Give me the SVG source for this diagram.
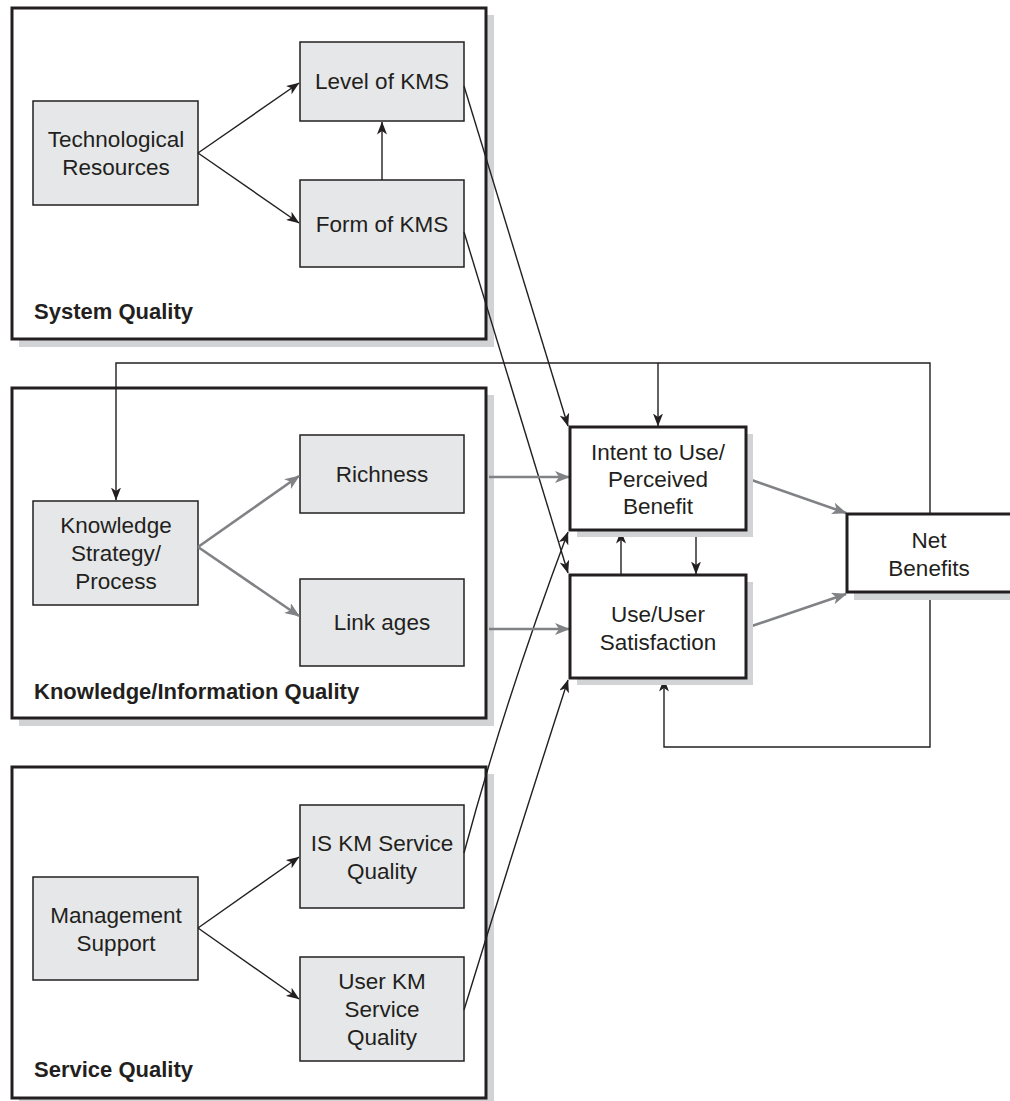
<svg xmlns="http://www.w3.org/2000/svg" width="1010" height="1101" viewBox="0 0 1010 1101">
  <style>
    .shadow { fill: #d1d3d4; stroke: none; }
    .group { fill: #ffffff; stroke: #231f20; stroke-width: 3; }
    .inner { fill: #e6e7e8; stroke: #231f20; stroke-width: 1.5; }
    .outcome { fill: #ffffff; stroke: #231f20; stroke-width: 3; }
    .txt { font-family: "Liberation Sans", Arial, Helvetica, sans-serif; font-size: 22.5px; fill: #231f20; text-anchor: middle; }
    .lbl { font-family: "Liberation Sans", Arial, Helvetica, sans-serif; font-size: 22px; font-weight: bold; fill: #231f20; }
    .blk { fill: none; stroke: #231f20; stroke-width: 1.4; marker-end: url(#ahB); }
    .gry { fill: none; stroke: #808285; stroke-width: 2.6; marker-end: url(#ahG); }
  </style>
  <defs>
    <marker id="ahB" viewBox="0 0 13 10" refX="12.5" refY="5" markerWidth="13" markerHeight="10" markerUnits="userSpaceOnUse" orient="auto">
      <path d="M0,0 L13,5 L0,10 L3.5,5 z" fill="#231f20"/>
    </marker>
    <marker id="ahG" viewBox="0 0 15 12" refX="14" refY="6" markerWidth="15" markerHeight="12" markerUnits="userSpaceOnUse" orient="auto">
      <path d="M0,0 L15,6 L0,12 L4,6 z" fill="#808285"/>
    </marker>
  </defs>
  <rect width="1010" height="1101" fill="#ffffff"/>

  <!-- System Quality -->
  <g id="system-quality">
    <rect class="shadow" x="19" y="15" width="475" height="332"/>
    <rect class="group" x="12" y="8" width="474" height="331"/>
    <text class="lbl" x="34" y="319">System Quality</text>
  </g>
  <g id="tech-resources">
    <rect class="inner" x="33" y="101" width="165" height="104"/>
    <text class="txt" x="116" y="147">Technological</text>
    <text class="txt" x="116" y="175">Resources</text>
  </g>
  <g id="level-kms">
    <rect class="inner" x="300" y="42" width="164" height="79"/>
    <text class="txt" x="382" y="89">Level of KMS</text>
  </g>
  <g id="form-kms">
    <rect class="inner" x="300" y="180" width="164" height="87"/>
    <text class="txt" x="382" y="232">Form of KMS</text>
  </g>

  <!-- Knowledge/Information Quality -->
  <g id="knowledge-quality">
    <rect class="shadow" x="19" y="395" width="475" height="331"/>
    <rect class="group" x="12" y="388" width="474" height="330"/>
    <text class="lbl" x="34" y="699">Knowledge/Information Quality</text>
  </g>
  <g id="knowledge-strategy">
    <rect class="inner" x="33" y="501" width="165" height="104"/>
    <text class="txt" x="116" y="533">Knowledge</text>
    <text class="txt" x="116" y="561">Strategy/</text>
    <text class="txt" x="116" y="589">Process</text>
  </g>
  <g id="richness">
    <rect class="inner" x="300" y="435" width="164" height="78"/>
    <text class="txt" x="382" y="482">Richness</text>
  </g>
  <g id="linkages">
    <rect class="inner" x="300" y="579" width="164" height="87"/>
    <text class="txt" x="382" y="630">Link ages</text>
  </g>

  <!-- Service Quality -->
  <g id="service-quality">
    <rect class="shadow" x="19" y="774" width="475" height="332"/>
    <rect class="group" x="12" y="767" width="474" height="331"/>
    <text class="lbl" x="34" y="1077">Service Quality</text>
  </g>
  <g id="management-support">
    <rect class="inner" x="33" y="877" width="165" height="103"/>
    <text class="txt" x="116" y="923">Management</text>
    <text class="txt" x="116" y="951">Support</text>
  </g>
  <g id="is-km-service">
    <rect class="inner" x="300" y="805" width="164" height="103"/>
    <text class="txt" x="382" y="851">IS KM Service</text>
    <text class="txt" x="382" y="879">Quality</text>
  </g>
  <g id="user-km-service">
    <rect class="inner" x="300" y="957" width="164" height="104"/>
    <text class="txt" x="382" y="989">User KM</text>
    <text class="txt" x="382" y="1017">Service</text>
    <text class="txt" x="382" y="1045">Quality</text>
  </g>

  <!-- Connectors -->
  <g id="connectors">
    <path class="blk" d="M198,153 L299,83"/>
    <path class="blk" d="M198,153 L299,223"/>
    <path class="blk" d="M382,180 L382,122"/>
    <path class="blk" d="M464,86 L568,426"/>
    <path class="blk" d="M464,232 L568,573"/>
    <path class="blk" d="M930,514 L930,363 L116,363 L116,500"/>
    <path class="blk" d="M658,363 L658,426"/>
    <path class="blk" d="M696,530 L696,574"/>
    <path class="blk" d="M621,575 L621,531"/>
    <path class="blk" d="M930,592 L930,747 L664,747 L664,679"/>
    <path class="blk" d="M198,928 L299,857"/>
    <path class="blk" d="M198,928 L299,999"/>
    <path class="blk" d="M464,853 Q505,700 568,532"/>
    <path class="blk" d="M464,1010 Q513,850 568,680"/>
    <path class="gry" d="M198,547 L299,476"/>
    <path class="gry" d="M198,547 L299,616"/>
    <path class="gry" d="M489,477 L569,477"/>
    <path class="gry" d="M489,629 L569,629"/>
    <path class="gry" d="M746,478 L846,513"/>
    <path class="gry" d="M746,628 L846,594"/>
  </g>

  <!-- Outcome constructs -->
  <g id="intent-to-use">
    <rect class="shadow" x="577" y="434" width="176" height="103"/>
    <rect class="outcome" x="570" y="427" width="176" height="103"/>
    <text class="txt" x="658" y="460">Intent to Use/</text>
    <text class="txt" x="658" y="487">Perceived</text>
    <text class="txt" x="658" y="514">Benefit</text>
  </g>
  <g id="use-satisfaction">
    <rect class="shadow" x="577" y="582" width="176" height="103"/>
    <rect class="outcome" x="570" y="575" width="176" height="103"/>
    <text class="txt" x="658" y="622">Use/User</text>
    <text class="txt" x="658" y="650">Satisfaction</text>
  </g>
  <g id="net-benefits">
    <rect class="shadow" x="854" y="521" width="170" height="79"/>
    <rect class="outcome" x="847" y="514" width="170" height="78"/>
    <text class="txt" x="929" y="548">Net</text>
    <text class="txt" x="929" y="576">Benefits</text>
  </g>
</svg>
